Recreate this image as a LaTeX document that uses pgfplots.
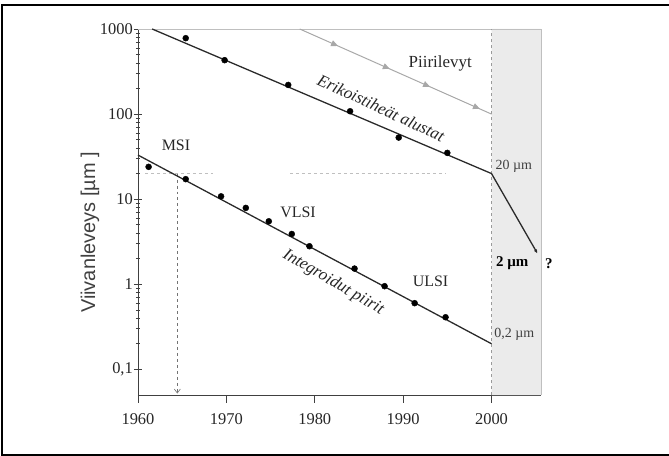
\documentclass[border=0pt]{standalone}
\usepackage{fontspec}
\setmainfont{Liberation Serif}
\newfontfamily\lsans{Liberation Sans}
\usepackage{pgfplots}
\pgfplotsset{compat=1.18}
\usetikzlibrary{arrows.meta,decorations.markings}
\definecolor{shade}{HTML}{EBEBEB}
\definecolor{pcbgray}{HTML}{A8A8A8}
\definecolor{dashgray}{HTML}{9A9A9A}
\definecolor{linedark}{HTML}{2A2A2A}
\begin{document}
\begin{tikzpicture}
\path[use as bounding box] (-138bp,-61bp) rectangle (531bp,395bp);
\draw[line width=2bp,black] (540bp,389.5bp) -- (-135.5bp,389.5bp) -- (-135.5bp,-59.5bp) -- (540bp,-59.5bp);
\begin{axis}[
  at={(0,0)}, anchor=south west,
  scale only axis, width=403bp, height=366bp,
  xmin=1960, xmax=2005.6,
  ymode=log, ymin=0.05, ymax=1000,
  axis lines*=left,
  axis line style={black!75, line width=0.8pt},
  clip=false,
  xtick={1960,1970,1980,1990,2000},
  xticklabels={1960,1970,1980,1990,2000},
  ytick={0.1,1,10,100,1000},
  yticklabels={{0,1},1,10,100,1000},
  xtick align=outside, ytick align=center,
  major tick length=8bp, minor tick length=4bp,
  tick style={black!75, line width=0.7pt},
  ticklabel style={font=\rmfamily\fontsize{16.5}{19}\selectfont, text=black!85},
  /pgf/number format/assume math mode=true,
  yticklabel style={inner sep=1pt},
  xticklabel style={yshift=-7bp},
  ylabel={\lsans\fontsize{20}{24}\selectfont Viivanleveys [µm ]},
  ylabel style={at={(axis description cs:-0.119,0.444)}, anchor=center, text=black!75},
]
% shaded future region
\addplot[fill=shade, draw=none] coordinates {(2000,0.05) (2005.6,0.05) (2005.6,1000) (2000,1000)} \closedcycle;
% light frame top and right
\addplot[black!25, line width=0.8pt] coordinates {(1960,1000) (2005.6,1000) (2005.6,0.05)};
% dashed guides
\addplot[dashed, dashgray, line width=0.6pt] coordinates {(2000,0.05) (2000,1000)};
\addplot[dashed, black!25, line width=0.6pt] coordinates {(1960.8,20) (1968.5,20)};
\addplot[dashed, black!25, line width=0.6pt] coordinates {(1977.2,20) (1994.9,20)};
\addplot[dashed, black!55, line width=0.6pt, -{Straight Barb[length=4bp,width=6bp]}] coordinates {(1964.45,20) (1964.45,0.052)};
% Piirilevyt
\addplot[pcbgray, line width=1pt, postaction={decorate},
  decoration={markings,
    mark=at position 0.20 with {\arrow{Triangle[length=7bp,width=6bp]}},
    mark=at position 0.47 with {\arrow{Triangle[length=7bp,width=6bp]}},
    mark=at position 0.68 with {\arrow{Triangle[length=7bp,width=6bp]}},
    mark=at position 0.94 with {\arrow{Triangle[length=7bp,width=6bp]}}}]
  coordinates {(1978.3,1000) (2000,100)};
% Erikoistiheat alustat
\addplot[linedark, line width=1.3pt, -{Latex[length=4bp,width=3.5bp]}] coordinates {(1961.6,1000) (2000,20) (2005.2,2.3)};
\addplot[only marks, mark=*, mark size=3bp, black] coordinates {
  (1965.4,780) (1969.8,430) (1977.0,220) (1984.0,108) (1989.5,53) (1995.0,35)};
% Integroidut piirit
\addplot[linedark, line width=1.3pt] coordinates {(1960,33) (2000,0.2)};
\addplot[only marks, mark=*, mark size=3bp, black] coordinates {
  (1961.2,24) (1965.4,17.2) (1969.4,10.8) (1972.2,7.9) (1974.8,5.5) (1977.4,3.9)
  (1979.4,2.8) (1984.5,1.53) (1987.9,0.95) (1991.3,0.60) (1994.8,0.41)};
% labels
\node[font=\fontsize{17}{20}\selectfont, text=black!85] at (axis cs:1994.2,398) {Piirilevyt};
\node[font=\fontsize{17}{20}\selectfont\itshape, rotate=-25, text=black!85] at (axis cs:1987.5,118) {Erikoistiheät alustat};
\node[font=\fontsize{17}{20}\selectfont\itshape, rotate=-30, text=black!85] at (axis cs:1982.1,1.05) {Integroidut piirit};
\node[font=\fontsize{16}{19}\selectfont, text=black!85] at (axis cs:1964.3,43) {MSI};
\node[font=\fontsize{16}{19}\selectfont, text=black!85] at (axis cs:1978.1,7.1) {VLSI};
\node[font=\fontsize{16}{19}\selectfont, text=black!85] at (axis cs:1993.1,1.07) {ULSI};
\node[font=\fontsize{14}{16}\selectfont, text=black!75, anchor=west, inner sep=0pt] at (axis cs:2000.45,24.4) {20 µm};
\node[font=\fontsize{14}{16}\selectfont, text=black!75, anchor=west, inner sep=0pt] at (axis cs:2000.3,0.26) {0,2 µm};
\node[font=\fontsize{15}{18}\selectfont\bfseries, anchor=west, inner sep=0pt] at (axis cs:2000.5,1.79) {2 µm};
\node[font=\fontsize{15}{18}\selectfont\bfseries] at (axis cs:2006.5,1.75) {?};
\end{axis}
\end{tikzpicture}
\end{document}
